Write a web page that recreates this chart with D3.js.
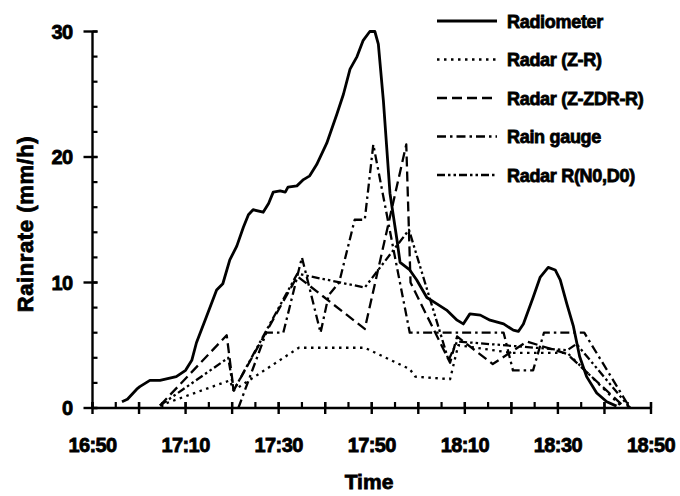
<!DOCTYPE html>
<html>
<head>
<meta charset="utf-8">
<script src="https://cdn.jsdelivr.net/npm/d3@7"></script>
<style>
  body { margin: 0; background: #fff; }
  text { font-family: "Liberation Sans", Arial, sans-serif; font-weight: bold; fill: #000; stroke: #000; stroke-width: 0.8px; }
</style>
</head>
<body>
<div id="chart"></div>
<script>
// data (time of day, rain rate mm/h)
const radiometerTimes = ["16:56:20","16:57:30","16:59:30","17:00:10","17:02:20","17:04:30","17:08:00","17:10:00","17:11:20","17:12:20","17:14:30","17:16:40","17:18:00","17:19:30","17:21:00","17:22:25","17:23:30","17:24:30","17:26:40","17:27:50","17:28:50","17:30:20","17:31:25","17:32:00","17:33:55","17:35:20","17:36:40","17:38:10","17:40:20","17:42:30","17:43:55","17:45:20","17:46:50","17:48:10","17:49:35","17:50:40","17:51:25","17:52:30","17:53:55","17:55:25","17:56:05","17:58:10","17:59:40","18:01:50","18:04:00","18:06:05","18:08:20","18:09:40","18:11:05","18:13:20","18:15:25","18:18:20","18:20:25","18:21:30","18:22:35","18:24:40","18:26:10","18:27:55","18:29:25","18:30:30","18:31:55","18:33:20","18:34:40","18:36:10","18:38:20","18:40:30","18:42:35"]
const radiometerValues = [0.5,0.7,1.5,1.7,2.2,2.2,2.5,3.0,3.8,5.2,7.3,9.4,9.9,11.8,12.9,14.4,15.4,15.8,15.6,16.3,17.2,17.3,17.2,17.6,17.7,18.2,18.5,19.4,21.1,23.4,25.0,27.0,28.0,29.3,30.0,30.0,29.0,24.5,17.1,13.4,11.6,11.0,10.2,8.8,8.3,7.8,7.0,6.7,7.5,7.4,7.0,6.7,6.2,6.1,6.7,8.8,10.4,11.2,11.0,10.2,8.3,6.5,4.1,2.5,1.2,0.5,0.15]

const zrTimes = ["17:04:30","17:19:30","17:20:20","17:34:20","17:48:30","17:58:10","17:59:20","18:06:50","18:08:35","18:20:00","18:32:00","18:44:00"]
const zrValues = [0.2,2.2,1.4,4.8,4.8,3.1,2.5,2.3,5.0,4.4,4.4,0]

const zdrTimes = ["17:04:30","17:18:50","17:20:20","17:34:00","17:48:30","17:57:25","17:58:20","18:06:50","18:08:20","18:16:00","18:23:20","18:32:00","18:44:30"]
const zdrValues = [0.2,5.8,1.4,10.5,6.3,21.0,10.0,3.6,5.7,3.5,5.3,4.3,0]

const gaugeTimes = ["17:21:20","17:27:20","17:31:00","17:35:00","17:39:00","17:40:45","17:43:00","17:46:20","17:48:30","17:50:20","17:55:00","17:58:10","18:18:20","18:20:20","18:24:40","18:27:00","18:35:40","18:45:30"]
const gaugeValues = [0,6,6,12,6,9,10,15,15,21,12,6,6,3,3,6,6,0]

const n0d0Times = ["17:04:30","17:19:10","17:20:20","17:34:00","17:48:30","17:58:00","18:06:30","18:08:20","18:32:00","18:34:00","18:45:30"]
const n0d0Values = [0.2,4.0,1.4,10.7,9.6,14.2,3.8,5.3,4.6,5.1,0]

const legendLabels = ["Radiometer","Radar (Z-R)","Radar (Z-ZDR-R)","Rain gauge","Radar R(N0,D0)"]
const yTicks = [0,10,20,30]
const xLabelTimes = ["16:50","17:10","17:30","17:50","18:10","18:30","18:50"]

const LINE_SETTINGS = [
  {times: radiometerTimes, values: radiometerValues, dash: null, width: 2.8},
  {times: zrTimes, values: zrValues, dash: "2.5,4.5", width: 2.3},
  {times: zdrTimes, values: zdrValues, dash: "10,5", width: 2.3},
  {times: gaugeTimes, values: gaugeValues, dash: "9,4,2.5,4", width: 2.3},
  {times: n0d0Times, values: n0d0Values, dash: "8,3,2.5,3,2.5,3", width: 2.3}
]

const W = 680, H = 496
const parseT = d3.timeParse("%H:%M:%S")
const parseHM = d3.timeParse("%H:%M")

const svg = d3.select("#chart").append("svg")
  .attr("width", W).attr("height", H)

const x = d3.scaleTime()
  .domain([parseHM("16:50"), parseHM("18:50")])
  .range([92.5, 651])
const y = d3.scaleLinear()
  .domain([0, 30])
  .range([408, 31.5])

// x axis: minor ticks every 5 min (inward), major every 10 min (crossing)
const minorX = d3.timeMinute.every(5).range(parseHM("16:50"), parseHM("18:51"))
const majorX = d3.timeMinute.every(10).range(parseHM("16:50"), parseHM("18:51"))

const gx = svg.append("g").attr("transform", "translate(0," + y(0) + ")")
gx.append("line").attr("x1", x.range()[0]).attr("x2", x.range()[1])
  .attr("stroke", "#000").attr("stroke-width", 2.4)
gx.selectAll(".minor").data(minorX).enter().append("line")
  .attr("x1", d => x(d)).attr("x2", d => x(d)).attr("y1", -6).attr("y2", 0)
  .attr("stroke", "#000").attr("stroke-width", 2.2)
gx.selectAll(".major").data(majorX).enter().append("line")
  .attr("x1", d => x(d)).attr("x2", d => x(d)).attr("y1", -6).attr("y2", 6)
  .attr("stroke", "#000").attr("stroke-width", 2.4)
gx.selectAll(".lab").data(xLabelTimes).enter().append("text")
  .attr("x", d => x(parseHM(d))).attr("y", 44)
  .attr("text-anchor", "middle")
  .style("font-size", "20px").style("letter-spacing", "-0.6px")
  .text(d => d)

// y axis: minor every 2 (inward), major every 10 (crossing)
const gy = svg.append("g").attr("transform", "translate(" + x.range()[0] + ",0)")
gy.append("line").attr("y1", y(0)).attr("y2", y(30))
  .attr("stroke", "#000").attr("stroke-width", 2.4)
gy.selectAll(".minor").data(d3.range(0, 31, 2)).enter().append("line")
  .attr("x1", 0).attr("x2", 5).attr("y1", d => y(d)).attr("y2", d => y(d))
  .attr("stroke", "#000").attr("stroke-width", 2.2)
gy.selectAll(".major").data(yTicks).enter().append("line")
  .attr("x1", -9).attr("x2", 5).attr("y1", d => y(d)).attr("y2", d => y(d))
  .attr("stroke", "#000").attr("stroke-width", 2.4)
gy.selectAll(".lab").data(yTicks).enter().append("text")
  .attr("x", -20).attr("y", d => y(d) + 7)
  .attr("text-anchor", "end")
  .style("font-size", "20px").style("letter-spacing", "-0.6px")
  .text(d => d)

// titles
svg.append("text")
  .attr("transform", "translate(33,224) rotate(-90)")
  .attr("text-anchor", "middle")
  .style("font-size", "22px").style("letter-spacing", "0.6px")
  .text("Rainrate (mm/h)")
svg.append("text")
  .attr("x", 369).attr("y", 489)
  .attr("text-anchor", "middle")
  .style("font-size", "21px")
  .text("Time")

// series
for (let c of LINE_SETTINGS) {
  let pts = c.times.map((t, i) => ({t: parseT(t), v: c.values[i]}))
  svg.append("path")
    .datum(pts)
    .attr("fill", "none")
    .attr("stroke", "#000")
    .attr("stroke-width", c.width)
    .attr("stroke-linejoin", "round")
    .attr("stroke-dasharray", c.dash)
    .attr("d", d3.line()
      .x(d => x(d.t))
      .y(d => y(d.v)))
}

// legend
const lg = svg.append("g")
LINE_SETTINGS.forEach((c, i) => {
  let yy = 21 + i * 38.5
  lg.append("line")
    .attr("x1", 437).attr("x2", 497).attr("y1", yy).attr("y2", yy)
    .attr("stroke", "#000").attr("stroke-width", c.width)
    .attr("stroke-dasharray", c.dash)
  lg.append("text")
    .attr("x", 507).attr("y", yy + 6.5)
    .style("font-size", "18px").style("letter-spacing", "-0.3px")
    .text(legendLabels[i])
})
</script>
</body>
</html>
